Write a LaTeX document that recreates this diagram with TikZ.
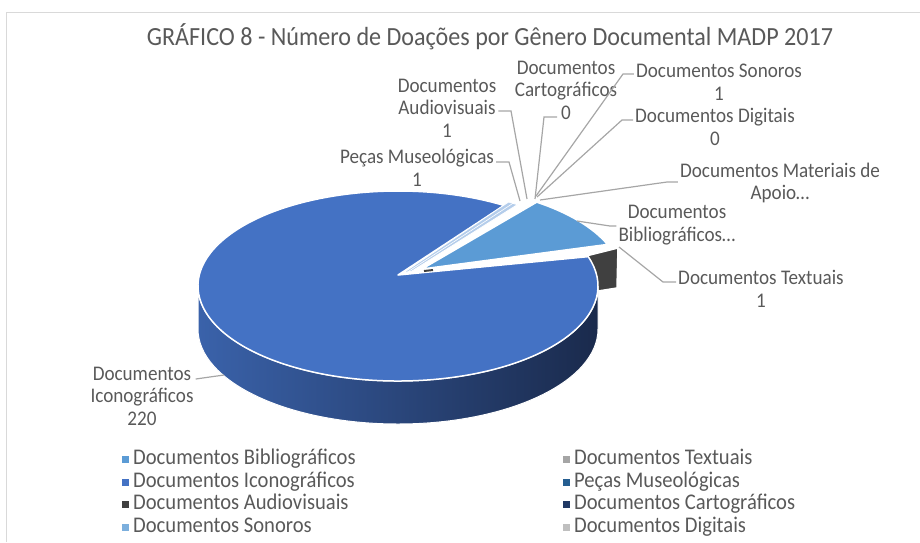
\documentclass[tikz,border=0pt]{standalone}
\usepackage{fontspec}
\setmainfont{Carlito}[FakeStretch=0.92]
\usetikzlibrary{positioning,calc}

\definecolor{txtgray}{HTML}{595959}
\definecolor{linegray}{HTML}{A6A6A6}
\definecolor{framegray}{HTML}{D9D9D9}
\definecolor{bibcol}{HTML}{5B9BD5}
\definecolor{textcol}{HTML}{A5A5A5}
\definecolor{icocol}{HTML}{4472C4}
\definecolor{pecacol}{HTML}{255E91}
\definecolor{audiocol}{HTML}{404040}
\definecolor{cartocol}{HTML}{203864}
\definecolor{sonocol}{HTML}{7CAFDD}
\definecolor{digicol}{HTML}{BFBFBF}
\definecolor{tinycol}{HTML}{B4CDEB}
\definecolor{sideleft}{HTML}{3A62AA}
\definecolor{sideright}{HTML}{1A2A4C}

\begin{document}
\begin{tikzpicture}[x=1pt,y=-1pt,
    lbl/.style={text=txtgray, align=center, inner sep=2pt,
                font=\fontsize{20.8}{22.5}\selectfont},
    legtext/.style={text=txtgray, anchor=west, inner sep=0pt,
                    text height=15pt, text depth=4pt,
                    font=\fontsize{22.4}{25}\selectfont},
    legkey/.style={fill=#1, minimum size=7pt, inner sep=0pt},
    leader/.style={draw=linegray, line width=1.2pt},
    slice/.style={fill=#1, draw=white, line width=1.5pt, line join=round}]
    \useasboundingbox (0,0) rectangle (920,542);
    \draw [framegray, line width=1.5pt] (6.5,542) -- (6.5,12.5) -- (920,12.5);

    \node (title) [text=txtgray, font=\fontsize{26.2}{29}\selectfont] at (490,37)
          {GRÁFICO 8 - Número de Doações por Gênero Documental MADP 2017};

    % pie
    \coordinate (pie_c) at (398,286);
    \coordinate (pie_o) at (398,275);
    \coordinate (bib_c) at (422,280);
    \coordinate (bib_o) at (422,269);
    \coordinate (tiny_c) at (404,283);
    \coordinate (tiny_o) at (403,273);
    \coordinate (tiny_e) at (412,271);

    \path [slice=audiocol] (586,256) -- (618,248) -- (617,288) -- (598,291) -- cycle;
    \path [left color=sideleft, right color=sideright, draw=white, line width=1pt]
          ($(pie_c)+(180:200 and 95)$)
          arc [start angle=180, end angle=0, x radius=200, y radius=95]
          -- ++(0,43)
          arc [start angle=0, end angle=180, x radius=200, y radius=95] -- cycle;
    \path [slice=icocol] (pie_o) -- ($(pie_c)+(-58:200 and 95)$)
          arc [start angle=-58, end angle=-378, x radius=200, y radius=95] -- cycle;
    \path [slice=bibcol] (bib_o) -- ($(bib_c)+(-22:200 and 95)$)
          arc [start angle=-22, end angle=-55, x radius=200, y radius=95] -- cycle;
    \path [slice=tinycol, line width=0.8pt] (tiny_o) -- ($(tiny_c)+(-58.5:200 and 95)$)
          arc [start angle=-58.5, end angle=-55.5, x radius=200, y radius=95]
          -- (tiny_e) -- cycle;
    \draw [white, line width=0.6pt] ($(tiny_o)!0.5!(tiny_e)$) -- ($(tiny_c)+(-57:200 and 95)$);
    \draw [audiocol, line width=2pt] (424,271) -- (433,270);

    % labels
    \node (iconograficos) [lbl] at (142,396) {Documentos\\Iconográficos\\220};
    \node (pecas) [lbl] at (417,168) {Peças Museológicas\\1};
    \node (audiovisuais) [lbl] at (447,108) {Documentos\\Audiovisuais\\1};
    \node (cartograficos) [lbl] at (566,90) {Documentos\\Cartográficos\\0};
    \node (sonoros) [lbl] at (719,82) {Documentos Sonoros\\1};
    \node (digitais) [lbl] at (715,127) {Documentos Digitais\\0};
    \node (materiais) [lbl] at (780,183) {Documentos Materiais de\\Apoio…};
    \node (bibliograficos) [lbl] at (677,225) {Documentos\\Bibliográficos…};
    \node (textuais) [lbl] at (761,289) {Documentos Textuais\\1};

    \coordinate (ico_k) at (195,379);   \coordinate (ico_p) at (224,375);
    \coordinate (pec_k) at (509,162);   \coordinate (pec_p) at (520,201);
    \coordinate (aud_k) at (511,111);   \coordinate (aud_p) at (527,199);
    \coordinate (car_k) at (544,117);   \coordinate (car_p) at (535,199);
    \coordinate (son_k) at (623,74);    \coordinate (son_p) at (536,196);
    \coordinate (dig_k) at (622,120);   \coordinate (dig_p) at (537,197);
    \coordinate (mat_k) at (667,182);   \coordinate (mat_p) at (540,200);
    \coordinate (bib_k) at (610,226);   \coordinate (bib_p) at (577,221);
    \coordinate (tex_k) at (663,282);   \coordinate (tex_p) at (619,247);

    \draw [leader] (iconograficos.east |- ico_k) -- (ico_p);
    \draw [leader] (pecas.east |- pec_k) -- (pec_k) -- (pec_p);
    \draw [leader] (audiovisuais.east |- aud_k) -- (aud_k) -- (aud_p);
    \draw [leader] (car_k) ++(13,0) -- (car_k) -- (car_p);
    \draw [leader] (sonoros.west |- son_k) -- (son_k) -- (son_p);
    \draw [leader] (digitais.west |- dig_k) -- (dig_k) -- (dig_p);
    \draw [leader] (materiais.west |- mat_k) -- (mat_k) -- (mat_p);
    \draw [leader] (bibliograficos.west |- bib_k) -- (bib_k) -- (bib_p);
    \draw [leader] (textuais.west |- tex_k) -- (tex_k) -- (tex_p);

    % legend
    \node (leg_bib) [legtext] at (133,459) {Documentos Bibliográficos};
    \node (leg_ico) [legtext] at (133,482) {Documentos Iconográficos};
    \node (leg_aud) [legtext] at (133,504) {Documentos Audiovisuais};
    \node (leg_son) [legtext] at (133,527) {Documentos Sonoros};
    \node (leg_tex) [legtext] at (574,459) {Documentos Textuais};
    \node (leg_pec) [legtext] at (574,482) {Peças Museológicas};
    \node (leg_car) [legtext] at (574,504) {Documentos Cartográficos};
    \node (leg_dig) [legtext] at (574,527) {Documentos Digitais};

    \node (key_bib) [legkey=bibcol, left=4pt of leg_bib] {};
    \node (key_ico) [legkey=icocol, left=4pt of leg_ico] {};
    \node (key_aud) [legkey=audiocol, left=4pt of leg_aud] {};
    \node (key_son) [legkey=sonocol, left=4pt of leg_son] {};
    \node (key_tex) [legkey=textcol, left=4pt of leg_tex] {};
    \node (key_pec) [legkey=pecacol, left=4pt of leg_pec] {};
    \node (key_car) [legkey=cartocol, left=4pt of leg_car] {};
    \node (key_dig) [legkey=digicol, left=4pt of leg_dig] {};
\end{tikzpicture}
\end{document}
